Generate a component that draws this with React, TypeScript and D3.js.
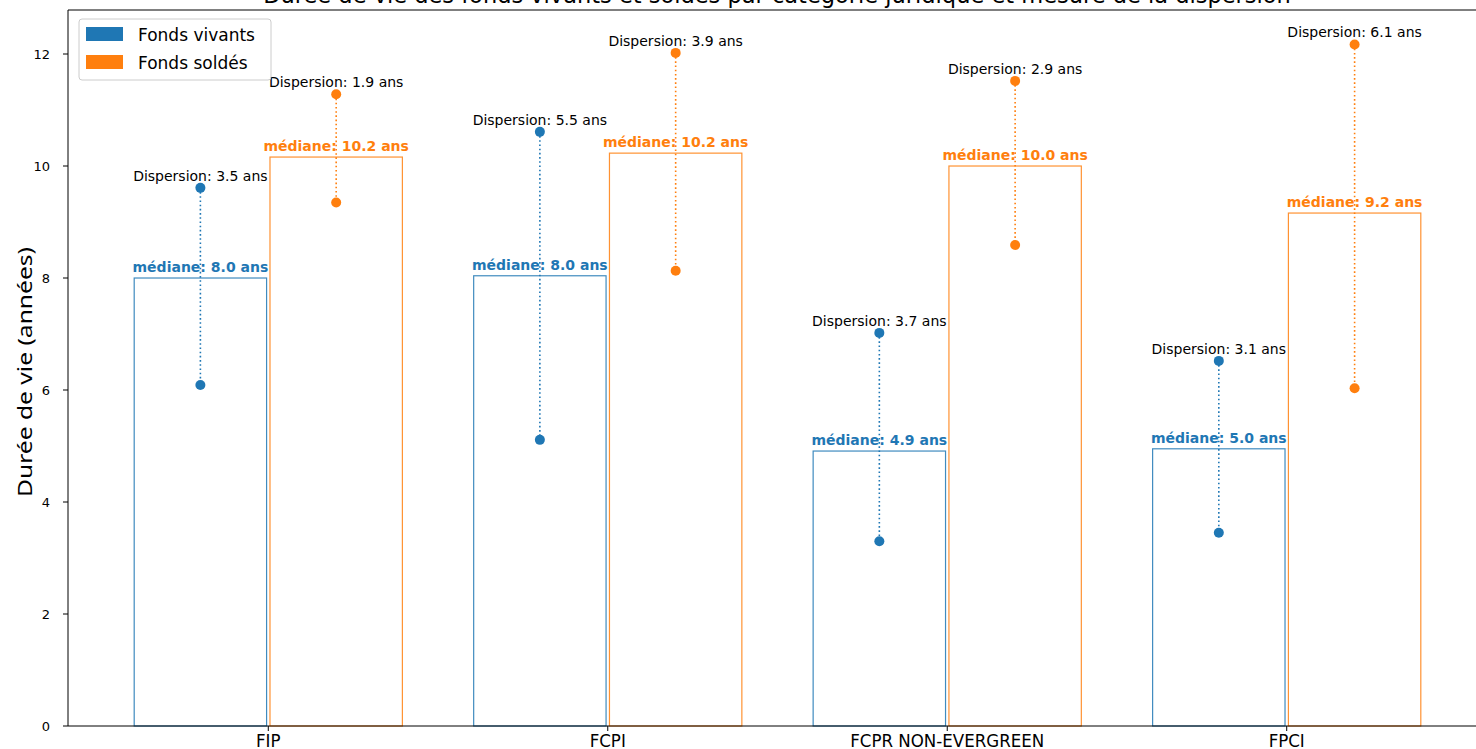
import React from "react";
import * as d3 from "d3";

const categories = ["FIP", "FCPI", "FCPR NON-EVERGREEN", "FPCI"];
const vivantsMedian = [8.0, 8.04, 4.91, 4.95];
const vivantsHigh = [9.61, 10.61, 7.02, 6.52];
const vivantsLow = [6.09, 5.11, 3.3, 3.45];
const soldesMedian = [10.16, 10.23, 10.0, 9.16];
const soldesHigh = [11.28, 12.02, 11.52, 12.17];
const soldesLow = [9.35, 8.13, 8.59, 6.03];
const yTicks = [0, 2, 4, 6, 8, 10, 12];

const BLUE = "#1f77b4";
const ORANGE = "#ff7f0e";
const W = 1476;
const H = 749;

export default function App() {
  const left = 68, right = 1487, top = 10, bottom = 726;
  const x = d3.scaleLinear().domain([-0.59, 3.59]).range([left, right]);
  const y = d3.scaleLinear().domain([0, 12.786]).range([bottom, top]);
  const bw = x(0.39) - x(0);
  const series = [
    { name: "Fonds vivants", color: BLUE, off: -0.2, med: vivantsMedian, hi: vivantsHigh, lo: vivantsLow },
    { name: "Fonds soldés", color: ORANGE, off: 0.2, med: soldesMedian, hi: soldesHigh, lo: soldesLow },
  ];
  const font = "DejaVu Sans, sans-serif";
  return (
    <div style={{ position: "absolute", left: 0, top: 0 }}>
      <svg width={W} height={H} style={{ display: "block", background: "#fff" }}>
        <text x={777} y={3} textAnchor="middle" fontFamily={font} fontSize={22.5} fill="#000">
          Durée de vie des fonds vivants et soldés par catégorie juridique et mesure de la dispersion
        </text>
        {series.map((s) =>
          categories.map((c, i) => {
            const cx = x(i + s.off);
            const yt = y(s.med[i]);
            const disp = Math.round((s.hi[i] - s.lo[i]) * 10) / 10;
            return (
              <g key={s.name + c}>
                <rect x={cx - bw / 2} y={yt} width={bw} height={y(0) - yt} fill="none" stroke={s.color} strokeWidth={1.2} strokeOpacity={0.85} />
                <line x1={cx} x2={cx} y1={y(s.hi[i])} y2={y(s.lo[i])} stroke={s.color} strokeWidth={1.6} strokeDasharray="1.6,2.6" />
                <circle cx={cx} cy={y(s.hi[i])} r={5} fill={s.color} />
                <circle cx={cx} cy={y(s.lo[i])} r={5} fill={s.color} />
                <text x={cx} y={yt - 6} textAnchor="middle" fontFamily={font} fontSize={14} fontWeight="bold" fill={s.color}>
                  {`médiane: ${s.med[i].toFixed(1)} ans`}
                </text>
                <text x={cx} y={y(s.hi[i]) - 7} textAnchor="middle" fontFamily={font} fontSize={14} fill="#000">
                  {`Dispersion: ${disp.toFixed(1)} ans`}
                </text>
              </g>
            );
          })
        )}
        {/* axes frame */}
        <line x1={left} x2={left} y1={top} y2={bottom} stroke="#000" strokeWidth={1} />
        <line x1={left} x2={right} y1={top} y2={top} stroke="#000" strokeWidth={1} />
        <line x1={left} x2={right} y1={bottom} y2={bottom} stroke="#000" strokeWidth={1} />
        {yTicks.map((t) => (
          <g key={t}>
            <line x1={left - 5} x2={left} y1={y(t)} y2={y(t)} stroke="#000" />
            <text x={left - 18} y={y(t)} dy="0.35em" textAnchor="end" fontFamily={font} fontSize={13} fill="#000">{t}</text>
          </g>
        ))}
        {categories.map((c, i) => (
          <g key={c}>
            <line x1={x(i)} x2={x(i)} y1={bottom} y2={bottom + 5} stroke="#000" />
            <text x={x(i)} y={bottom + 21} textAnchor="middle" fontFamily="Liberation Sans Narrow, DejaVu Sans Condensed, sans-serif" fontSize={18.5} fill="#000">{c}</text>
          </g>
        ))}
        <text transform={`translate(32,${(247 + 497) / 2}) rotate(-90)`} textAnchor="middle" fontFamily="Noto Sans, sans-serif" fontSize={20} textLength={250} lengthAdjust="spacingAndGlyphs" fill="#000">
          Durée de vie (années)
        </text>
        {/* legend */}
        <rect x={79} y={19} width={192} height={61} rx={3} fill="#fff" fillOpacity={0.8} stroke="#ccc" />
        {series.map((s, k) => (
          <g key={s.name}>
            <rect x={86} y={27 + k * 28} width={37} height={14} fill={s.color} />
            <text x={138} y={41 + k * 28} fontFamily={font} fontSize={17} fill="#000">{s.name}</text>
          </g>
        ))}
      </svg>
    </div>
  );
}
